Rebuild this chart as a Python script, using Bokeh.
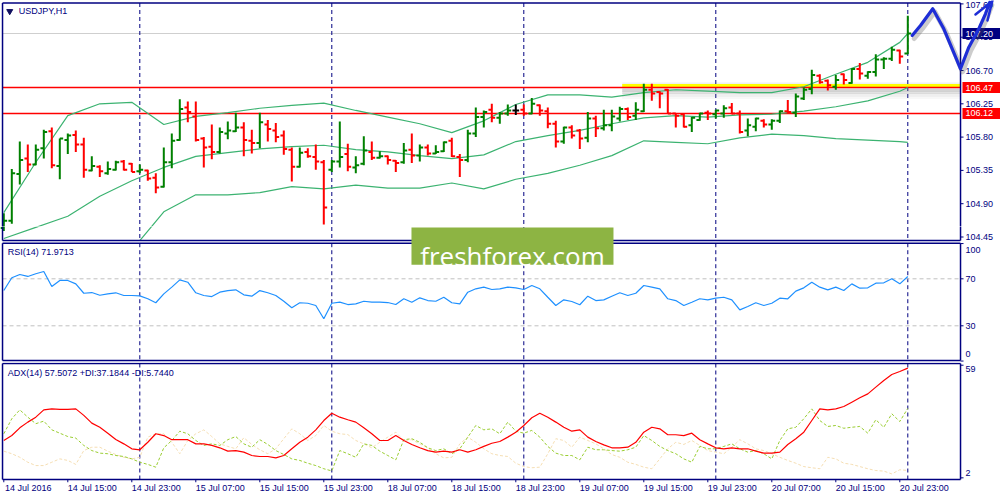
from bokeh.plotting import figure
from bokeh.layouts import column
from bokeh.models import Range1d, FixedTicker, ColumnDataSource
from bokeh.embed import file_html
from bokeh.resources import INLINE
from bokeh.core.properties import value

# ---------------- data ----------------
symbol_title = "USDJPY,H1"
rsi_title = "RSI(14) 71.9713"
adx_title = "ADX(14) 57.5072 +DI:37.1844 -DI:5.7440"
watermark = "freshforex.com"

opens = [
    104.57, 104.67, 105.30, 105.51, 105.43, 105.65, 105.88, 105.41, 105.76, 105.83,
    105.70, 105.35, 105.40, 105.31, 105.36, 105.47, 105.44, 105.34, 105.35, 105.25,
    105.13, 105.46, 105.76, 106.20, 106.08, 105.78, 105.67, 105.60, 105.85, 105.88,
    105.93, 105.75, 105.72, 105.97, 105.89, 105.82, 105.63, 105.40, 105.60, 105.53,
    105.46, 105.36, 105.47, 105.57, 105.39, 105.44, 105.60, 105.52, 105.54, 105.48,
    105.46, 105.63, 105.55, 105.66, 105.58, 105.61, 105.75, 105.53, 105.49, 105.85,
    106.07, 106.17, 106.06, 106.12, 106.16, 106.17, 106.12, 106.23, 106.15, 105.98,
    105.74, 105.93, 105.89, 105.79, 106.05, 105.92, 105.96, 106.05, 106.18, 106.09,
    106.15, 106.44, 106.41, 106.44, 106.12, 106.11, 105.96, 106.03, 106.13, 106.11,
    106.12, 106.20, 106.12, 105.89, 105.94, 106.02, 105.97, 106.02, 106.15, 106.13,
    106.32, 106.45, 106.63, 106.56, 106.48, 106.65, 106.53, 106.72, 106.63, 106.68,
    106.85, 106.86, 106.97, 106.93]
highs = [
    104.77, 105.37, 105.74, 105.70, 105.70, 105.90, 105.93, 105.78, 105.85, 105.89,
    105.79, 105.54, 105.42, 105.47, 105.48, 105.49, 105.45, 105.43, 105.36, 105.31,
    105.66, 105.85, 106.31, 106.28, 106.28, 105.80, 105.97, 105.93, 106.01, 106.13,
    106.00, 105.90, 106.13, 106.03, 105.99, 105.89, 105.66, 105.66, 105.65, 105.70,
    105.49, 105.49, 106.01, 105.71, 105.54, 105.81, 105.74, 105.61, 105.55, 105.49,
    105.72, 105.85, 105.70, 105.70, 105.69, 105.74, 105.79, 105.57, 105.90, 106.20,
    106.16, 106.25, 106.14, 106.24, 106.24, 106.24, 106.33, 106.24, 106.20, 106.02,
    105.94, 105.96, 105.91, 106.14, 106.09, 106.17, 106.17, 106.21, 106.20, 106.27,
    106.52, 106.52, 106.42, 106.45, 106.12, 106.12, 106.07, 106.13, 106.16, 106.17,
    106.23, 106.26, 106.16, 106.05, 106.06, 106.04, 106.04, 106.16, 106.30, 106.39,
    106.47, 106.71, 106.65, 106.58, 106.64, 106.66, 106.73, 106.80, 106.69, 106.92,
    106.88, 107.02, 106.98, 107.44]
lows = [
    104.53, 104.63, 105.16, 105.33, 105.42, 105.51, 105.38, 105.23, 105.57, 105.60,
    105.25, 105.34, 105.26, 105.29, 105.35, 105.35, 105.33, 105.31, 105.21, 105.04,
    105.12, 105.38, 105.75, 106.00, 105.74, 105.39, 105.50, 105.58, 105.77, 105.87,
    105.54, 105.58, 105.65, 105.74, 105.73, 105.56, 105.20, 105.39, 105.52, 105.36,
    104.62, 105.33, 105.39, 105.34, 105.31, 105.42, 105.49, 105.51, 105.43, 105.33,
    105.44, 105.45, 105.47, 105.55, 105.57, 105.60, 105.53, 105.26, 105.46, 105.80,
    105.93, 106.00, 105.98, 106.09, 106.10, 106.09, 106.11, 106.09, 105.92, 105.66,
    105.71, 105.78, 105.64, 105.73, 105.80, 105.89, 105.88, 106.01, 106.03, 106.03,
    106.14, 106.29, 106.19, 106.12, 105.93, 105.93, 105.87, 106.02, 106.03, 106.05,
    106.06, 106.11, 105.85, 105.81, 105.88, 105.93, 105.90, 105.99, 106.12, 106.07,
    106.30, 106.38, 106.52, 106.43, 106.44, 106.51, 106.52, 106.58, 106.59, 106.62,
    106.72, 106.83, 106.79, 106.92]
closes = [
    104.67, 105.31, 105.49, 105.43, 105.63, 105.87, 105.42, 105.78, 105.82, 105.70,
    105.36, 105.41, 105.34, 105.37, 105.46, 105.36, 105.33, 105.36, 105.24, 105.12,
    105.46, 105.75, 106.18, 106.14, 105.76, 105.66, 105.60, 105.87, 105.89, 105.93,
    105.76, 105.72, 106.00, 105.91, 105.80, 105.64, 105.40, 105.59, 105.54, 105.47,
    104.85, 105.47, 105.53, 105.40, 105.42, 105.62, 105.52, 105.54, 105.49, 105.45,
    105.62, 105.55, 105.66, 105.58, 105.60, 105.73, 105.54, 105.49, 105.85, 106.07,
    106.14, 106.06, 106.12, 106.16, 106.16, 106.12, 106.25, 106.16, 105.98, 105.74,
    105.93, 105.82, 105.78, 106.05, 105.92, 105.96, 106.08, 106.18, 106.07, 106.17,
    106.44, 106.39, 106.39, 106.12, 106.09, 105.94, 106.06, 106.12, 106.12, 106.16,
    106.19, 106.12, 105.87, 105.96, 106.05, 105.97, 106.02, 106.15, 106.14, 106.35,
    106.44, 106.64, 106.54, 106.50, 106.57, 106.57, 106.72, 106.66, 106.68, 106.85,
    106.86, 106.98, 106.89, 107.20]
bars = list(range(len(closes)))

# Bollinger bands (sampled)
bb_idx = [0, 4, 8, 12, 16, 20, 24, 28, 32, 36, 40, 44, 48, 52, 56, 60, 64, 68, 72,
          76, 80, 84, 88, 92, 96, 100, 104, 108, 112, 113]
bb_upper = [104.78, 105.46, 106.09, 106.25, 106.27, 105.97, 106.08, 106.13, 106.19, 106.23,
            106.26, 106.16, 106.07, 105.98, 105.86, 106.02, 106.24, 106.37, 106.37, 106.34,
            106.40, 106.44, 106.42, 106.40, 106.40, 106.48, 106.65, 106.81, 107.08, 107.20]
bb_mid = [104.43, 104.58, 104.73, 105.00, 105.21, 105.39, 105.54, 105.59, 105.64, 105.67,
          105.69, 105.63, 105.60, 105.55, 105.51, 105.56, 105.74, 105.82, 105.89, 105.98,
          106.06, 106.09, 106.07, 106.10, 106.11, 106.15, 106.21, 106.29, 106.42, 106.47]
bb_low_idx = [17, 20, 24, 28, 32, 36, 40, 44, 48, 52, 56, 60, 64, 68, 72, 76, 80, 84,
              88, 92, 96, 100, 104, 108, 112, 113]
bb_lower = [104.40, 104.79, 105.02, 105.02, 105.05, 105.13, 105.10, 105.15, 105.11, 105.11,
            105.18, 105.10, 105.23, 105.31, 105.42, 105.55, 105.75, 105.73, 105.71, 105.79,
            105.84, 105.82, 105.78, 105.76, 105.74, 105.73]

rsi = [60.0, 70.9, 73.7, 72.0, 74.3, 76.2, 63.4, 68.6, 68.6, 65.7,
       57.7, 58.3, 56.0, 57.2, 58.1, 55.8, 55.8, 55.5, 53.0, 49.6,
       57.2, 62.9, 69.1, 67.1, 58.1, 55.8, 54.9, 58.6, 60.0, 60.6,
       56.4, 55.2, 60.0, 58.1, 55.8, 50.9, 45.3, 49.6, 49.2, 47.3,
       36.0, 49.2, 50.1, 48.1, 48.7, 50.9, 50.1, 50.1, 49.8, 48.1,
       53.0, 50.1, 53.8, 51.5, 50.9, 54.3, 49.6, 48.7, 58.6, 61.5,
       62.9, 60.9, 61.5, 62.9, 62.3, 60.9, 64.3, 61.5, 54.3, 47.3,
       52.1, 50.7, 47.9, 55.2, 51.5, 52.1, 55.2, 58.1, 55.8, 57.7,
       64.3, 62.9, 61.5, 53.0, 51.5, 47.3, 50.1, 53.0, 52.1, 53.5,
       54.3, 52.1, 43.6, 46.4, 49.6, 47.3, 49.2, 53.5, 53.0, 59.5,
       62.3, 67.1, 62.9, 60.6, 62.9, 60.0, 65.7, 62.0, 62.3, 66.3,
       66.6, 70.0, 65.7, 71.97]

adx = [20.9, 23.4, 27.3, 30.2, 32.7, 36.4, 36.9, 36.6, 36.6, 36.9,
       33.6, 29.7, 27.6, 24.6, 21.4, 19.2, 16.7, 16.2, 20.0, 24.3,
       23.4, 21.3, 21.3, 21.3, 19.2, 19.2, 18.4, 17.2, 15.5, 15.8,
       15.0, 13.3, 12.8, 12.8, 12.1, 13.3, 16.7, 20.0, 22.6, 26.3,
       31.0, 34.7, 32.7, 31.4, 30.2, 27.3, 24.3, 20.9, 20.9, 23.4,
       20.9, 18.9, 17.2, 15.8, 15.0, 15.5, 15.0, 16.2, 15.0, 16.2,
       17.9, 19.5, 20.4, 22.6, 25.1, 28.5, 32.4, 34.7, 32.7, 30.2,
       27.6, 25.6, 26.3, 22.6, 20.4, 18.7, 17.2, 17.2, 17.5, 20.0,
       25.1, 27.6, 26.8, 23.8, 23.8, 23.4, 24.6, 21.3, 19.2, 17.2,
       16.7, 17.2, 16.7, 16.7, 15.5, 14.5, 14.5, 15.0, 18.9, 21.8,
       25.1, 31.0, 36.9, 36.4, 36.9, 38.1, 40.3, 42.5, 44.5, 47.9,
       51.3, 54.3, 55.8, 57.5072]
plus_di = [24.3, 31.9, 36.4, 32.7, 29.4, 30.7, 26.3, 24.6, 22.9, 22.1,
           18.4, 15.8, 14.5, 14.2, 13.3, 12.8, 11.6, 9.9, 8.8, 7.4,
           17.2, 20.9, 25.6, 24.3, 20.9, 18.4, 19.2, 18.4, 21.3, 22.9,
           19.2, 17.5, 21.3, 18.9, 15.8, 13.8, 11.6, 10.8, 9.4, 8.2,
           6.6, 5.5, 15.8, 14.2, 12.4, 19.2, 18.4, 15.5, 13.3, 11.1,
           21.3, 21.8, 20.0, 17.2, 15.8, 16.7, 14.2, 16.7, 22.6, 28.5,
           26.3, 26.8, 24.3, 30.2, 25.6, 24.6, 26.0, 22.6, 17.9, 14.5,
           13.3, 13.3, 11.1, 17.5, 16.2, 16.2, 15.8, 15.5, 16.2, 17.5,
           23.4, 20.9, 17.9, 15.8, 14.2, 11.6, 9.9, 17.9, 16.7, 16.7,
           17.9, 19.2, 16.7, 15.0, 15.8, 14.2, 11.6, 20.9, 26.8, 27.6,
           31.9, 36.9, 31.0, 28.0, 28.5, 27.1, 27.6, 28.0, 24.6, 31.4,
           27.6, 34.4, 30.5, 37.1844]
minus_di = [15.5, 14.2, 12.4, 9.9, 8.2, 8.2, 9.9, 11.6, 10.8, 8.8,
            15.8, 17.5, 17.5, 15.5, 13.8, 12.4, 11.6, 12.4, 22.6, 24.3,
            24.3, 20.0, 14.2, 20.9, 24.3, 26.3, 22.9, 19.2, 17.9, 16.7,
            22.3, 18.9, 16.2, 14.2, 16.7, 21.8, 26.8, 24.3, 20.9, 23.4,
            28.5, 25.6, 24.3, 23.9, 20.9, 19.2, 17.2, 20.0, 22.6, 25.1,
            20.9, 21.3, 19.2, 17.2, 14.2, 12.1, 12.4, 19.2, 22.6, 20.0,
            16.7, 14.2, 13.3, 12.8, 9.4, 7.7, 7.1, 7.4, 14.2, 21.8,
            20.9, 17.5, 22.6, 20.9, 19.2, 16.7, 13.8, 12.4, 9.9, 8.8,
            7.4, 6.6, 11.6, 16.7, 20.0, 18.9, 20.9, 18.4, 15.8, 15.0,
            14.2, 17.5, 21.3, 19.2, 16.7, 15.8, 14.2, 12.4, 10.8, 9.4,
            7.7, 7.1, 6.6, 12.4, 11.6, 9.4, 8.8, 7.7, 6.6, 5.7,
            5.4, 4.0, 6.1, 5.744]

time_ticks = [0, 8, 16, 24, 32, 40, 48, 56, 64, 72, 80, 88, 96, 104, 112]
time_labels = ["14 Jul 2016", "14 Jul 15:00", "14 Jul 23:00", "15 Jul 07:00",
               "15 Jul 15:00", "15 Jul 23:00", "18 Jul 07:00", "18 Jul 15:00",
               "18 Jul 23:00", "19 Jul 07:00", "19 Jul 15:00", "19 Jul 23:00",
               "20 Jul 07:00", "20 Jul 15:00", "20 Jul 23:00"]
day_separators = [17, 41, 65, 89, 113]

price_ticks = [107.60, 107.15, 106.70, 106.25, 105.80, 105.35, 104.90, 104.45]
current_price = 107.20
levels = [106.47, 106.12]
yellow_level = 106.47
yellow_start = 77.3
rsi_ticks = [100, 70, 30, 0]
rsi_levels = [70, 30]
adx_ticks = [59, 2]

arrow_x = [113.55, 114.59, 116.12, 117.5, 118.55, 119.59, 120.63, 121.88, 122.71, 123.25]
arrow_y = [107.173, 107.308, 107.534, 107.264, 106.993, 106.723, 107.015, 107.264, 107.466, 107.623]
head_x = [[121.46, 123.34], [122.96, 123.59]]
head_y = [[107.457, 107.62], [107.376, 107.65]]

# ---------------- layout constants ----------------
W = 1000
H_PRICE, H_RSI, H_ADX, AX_H = 226, 136, 138, 18
PPB = 8.0                              # pixels per hourly bar
X0 = -3.3 / PPB
X1 = X0 + W / PPB
AXIS_X = 119.59
LBL_X = 120.21
BOX_X = 122.21
X_LEFT = -0.16
NAVY = "#000080"
RED = "#ff0000"
GREEN = "#008000"
BAND = "#3cb371"
WM_COLOR = "#8db443"
FONT = "Liberation Sans"
FS = "9px"
LABEL_SHIFT = 24.5 / PPB   # half a time label's width: labels start at their tick

PPU = 74.0                         # price panel: pixels per 1.00 JPY
PRICE_TOP = 106.70 + 70 / PPU
PRICE_RANGE = (PRICE_TOP - H_PRICE / PPU, PRICE_TOP)
PRICE_CONT = (PRICE_RANGE[0] - H_RSI / PPU, PRICE_RANGE[0])   # continues into next figure
RSI_PPU = 1.175
RSI_RANGE = (-1.23, -1.23 + H_RSI / RSI_PPU)
ADX_PPU = 1.976
ADX_RANGE = (60.37 - (H_ADX - AX_H) / ADX_PPU, 60.37)


def rsi_at(y):      # RSI value at a reference pixel row (for placing annotations)
    return 70 + (278.3 - y) / RSI_PPU


def panel(h, yr, with_xaxis=False):
    kw = dict(width=W, height=h, x_range=Range1d(X0, X1), y_range=Range1d(*yr),
              output_backend="svg", toolbar_location=None, tools="",
              min_border_left=0, min_border_right=0, min_border_top=0,
              min_border_bottom=AX_H if with_xaxis else 0, y_axis_type=None)
    if not with_xaxis:
        kw["x_axis_type"] = None
    p = figure(**kw)
    p.outline_line_color = None
    p.background_fill_color = "white"
    p.border_fill_color = "white"
    p.xgrid.visible = False
    p.ygrid.visible = False
    return p


def frame_box(p, ytop, ybot, **kw):
    p.segment(x0=[X_LEFT, X_LEFT, X_LEFT, AXIS_X], y0=[ytop, ybot, ytop, ytop],
              x1=[AXIS_X, AXIS_X, X_LEFT, AXIS_X], y1=[ytop, ybot, ybot, ybot],
              line_color=NAVY, line_width=1.5, **kw)


def separators(p, ytop, ybot, **kw):
    n = len(day_separators)
    p.segment(x0=day_separators, x1=day_separators, y0=[ytop] * n, y1=[ybot] * n,
              line_color=NAVY, line_width=1, line_dash="4 3", **kw)


def right_labels(p, ticks, texts, offsets, **kw):
    n = len(ticks)
    if n == 0:
        return
    p.segment(x0=[AXIS_X] * n, x1=[AXIS_X + 3 / PPB] * n, y0=ticks, y1=ticks,
              line_color=NAVY, line_width=1, **kw)
    p.text(x=[LBL_X] * n, y=ticks, text=texts, y_offset=offsets,
           text_baseline="middle", text_align="left", text_font=value(FONT),
           text_font_size=FS, text_color=NAVY, **kw)


def title(p, x, y, txt, **kw):
    p.text(x=[x], y=[y], text=[txt], text_baseline="middle", text_align="left",
           text_font=value(FONT), text_font_size=FS, text_color=NAVY, **kw)


def draw_price(p, main=True, **kw):
    """The price panel; drawn in the price figure and, for its lowest strip,
    again on a continued price scale at the top of the RSI figure."""
    p_top = PRICE_TOP - 2.5 / PPU
    p_bot = PRICE_TOP - 240 / PPU
    p.segment(x0=[X_LEFT], x1=[AXIS_X], y0=[current_price], y1=[current_price],
              line_color="#cfcfcf", line_width=1, **kw)
    separators(p, p_top, p_bot, **kw)
    for off, a in [(3.5, 0.10), (-2.5, 0.30), (-5.0, 0.20), (-7.5, 0.11), (-10.0, 0.05)]:
        yy = yellow_level + off / PPU
        p.segment(x0=[yellow_start], x1=[AXIS_X], y0=[yy], y1=[yy],
                  line_color="#707070", line_alpha=a, line_width=3, **kw)
    yy = yellow_level + 1.6 / PPU
    p.segment(x0=[yellow_start], x1=[AXIS_X], y0=[yy], y1=[yy],
              line_color="#ffff00", line_width=4, **kw)
    p.segment(x0=[X_LEFT] * 2, x1=[AXIS_X] * 2, y0=levels, y1=levels,
              line_color=RED, line_width=1.5, **kw)

    p.line(bb_idx, bb_upper, line_color=BAND, line_width=1.2, **kw)
    p.line(bb_idx, bb_mid, line_color=BAND, line_width=1.2, **kw)
    p.line(bb_low_idx, bb_lower, line_color=BAND, line_width=1.2, **kw)

    cols = [GREEN if c > o else (RED if c < o else "#000000") for o, c in zip(opens, closes)]
    src = ColumnDataSource(dict(x=bars, o=opens, h=highs, l=lows, c=closes, col=cols,
                                xl=[i - 0.42 for i in bars], xr=[i + 0.42 for i in bars]))
    p.segment(x0="x", y0="l", x1="x", y1="h", line_color="col", line_width=2, source=src, **kw)
    p.segment(x0="xl", y0="o", x1="x", y1="o", line_color="col", line_width=2, source=src, **kw)
    p.segment(x0="x", y0="c", x1="xr", y1="c", line_color="col", line_width=2, source=src, **kw)

    frame_box(p, p_top, p_bot, **kw)
    cut = PRICE_RANGE[0]
    if main:
        tks = [t for t in price_ticks if t > cut + 6 / PPU]
        offs = [1.5 if t == max(price_ticks) else 0 for t in tks]
    else:
        tks = [t for t in price_ticks if t < cut - 6 / PPU]
        offs = [0] * len(tks)
    right_labels(p, tks, ["%.2f" % t for t in tks], offs, **kw)

    if main:
        tag_vals = [current_price] + levels
        p.rect(x=[BOX_X] * 3, y=tag_vals, width=38, height=11, width_units="screen",
               height_units="screen", fill_color=[NAVY, RED, RED], line_color=None)
        p.text(x=[LBL_X] * 3, y=tag_vals, text=["%.2f" % v for v in tag_vals],
               text_baseline="middle", text_align="left", text_font=value(FONT),
               text_font_size=FS, text_color="white")

        sx, sy = 2 / PPB, 3 / PPU
        p.line([x + sx for x in arrow_x], [y - sy for y in arrow_y], line_color="#555555",
               line_alpha=0.3, line_width=5, line_join="round", line_cap="round")
        p.line(arrow_x, arrow_y, line_color="#1e2ed6", line_width=3.2, line_join="round",
               line_cap="round")
        p.multi_line(head_x, head_y, line_color="#1e2ed6", line_width=2.5, line_cap="round")

        p.scatter(x=[0.74], y=[107.50], marker="inverted_triangle", size=6,
                  fill_color="#101060", line_color="#101060")
        title(p, 1.875, 107.50, symbol_title)


# ---------------- price panel ----------------
pp = panel(H_PRICE, PRICE_RANGE)
draw_price(pp)

# ---------------- RSI panel (its top strip continues the price panel) ----------------
pr = panel(H_RSI, RSI_RANGE)
pr.extra_y_ranges = {"price": Range1d(*PRICE_CONT)}
draw_price(pr, main=False, y_range_name="price")

r_top = rsi_at(242.7)
r_bot = rsi_at(360)
separators(pr, r_top, r_bot)
pr.segment(x0=[X_LEFT] * 2, x1=[AXIS_X] * 2, y0=rsi_levels, y1=rsi_levels,
           line_color="#c0c0c0", line_width=1, line_dash="4 3")
pr.line(bars, rsi, line_color="#1e90ff", line_width=1.2)
frame_box(pr, r_top, r_bot)
right_labels(pr, rsi_ticks, [str(t) for t in rsi_ticks], [6, 0, 0, -7])
title(pr, 0.5, rsi_at(251.7), rsi_title)

# watermark, on top of both panels' borders
wm_left, wm_right = 50.96, 76.21
pr.quad(left=[wm_left], right=[wm_right], top=[rsi_at(227)], bottom=[rsi_at(264.3)],
        fill_color=WM_COLOR, line_color=None)
pr.text(x=[(wm_left + wm_right) / 2], y=[rsi_at(255)], text=[watermark],
        text_align="center", text_baseline="alphabetic", text_font=value("Open Sans"),
        text_font_size="26px", text_color="white")

# ---------------- ADX panel ----------------
pa = panel(H_ADX, ADX_RANGE, with_xaxis=True)
a_top = 60.37 - 1.0 / ADX_PPU
a_bot = 1.16
separators(pa, a_top, a_bot)
pa.line(bars, minus_di, line_color="#f5deb3", line_width=1, line_dash="3 2")
pa.line(bars, plus_di, line_color="#9acd32", line_width=1, line_dash="3 2")
pa.line(bars, adx, line_color=RED, line_width=1.2)
frame_box(pa, a_top, a_bot)
right_labels(pa, adx_ticks, [str(t) for t in adx_ticks], [4, -5])
title(pa, 0.5, 55.3, adx_title)
# time tick marks hanging below the ADX panel border
nt = len(time_ticks)
pa.segment(x0=time_ticks, x1=time_ticks, y0=[a_bot] * nt, y1=[ADX_RANGE[0]] * nt,
           line_color=NAVY, line_width=1)

ax = pa.xaxis[0]
label_pos = [t + LABEL_SHIFT for t in time_ticks]
ax.ticker = FixedTicker(ticks=label_pos)
ax.major_label_overrides = {p: s for p, s in zip(label_pos, time_labels)}
ax.major_label_text_font = FONT
ax.major_label_text_font_size = FS
ax.major_label_text_color = NAVY
ax.major_label_standoff = 0
ax.major_tick_in = 0
ax.major_tick_out = 0
ax.major_tick_line_color = None
ax.minor_tick_line_color = None
ax.axis_line_color = None

layout = column(pp, pr, pa, spacing=0)
open("out.html", "w").write(file_html(layout, INLINE))
